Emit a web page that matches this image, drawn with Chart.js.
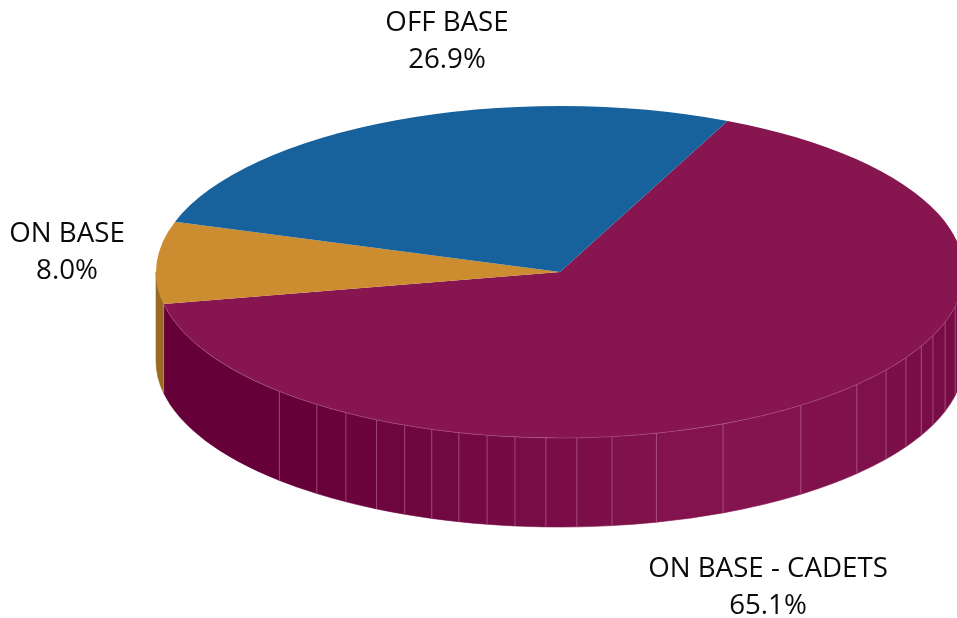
<!DOCTYPE html>
<html>
<head>
<meta charset="utf-8">
<style>html,body{margin:0;padding:0;background:#fff;overflow:hidden}canvas{display:block}</style>
<script src="https://cdn.jsdelivr.net/npm/chart.js@4/dist/chart.umd.min.js"></script>
</head>
<body>
<canvas id="c" width="957" height="618"></canvas>
<script>
const categories = ["ON BASE - CADETS", "ON BASE", "OFF BASE"];
const shares = [65.1, 8.0, 26.9];
const sliceColors = ["#861550", "#cb8d30", "#17619c"];

const view = { rx: 404, ry: 166, depth: 89 };
const wallFacetDegrees = [12,17.6,22.6,26.6,31.1,36.2,42.7,53.4,66.2,76.2,82.6,87.6,92,96.4,100.4,104.5,108.5,112.6,117,122,127,134];
const labelAnchors = [{x:768,y:569},{x:67,y:234},{x:447,y:23}];
const labelFont = '27.7px "Open Sans"';

const rad = d => d * Math.PI / 180;
function mix(a, b, t) {
  return "rgb(" + a.map((v, i) => Math.round(v + (b[i] - v) * t)).join(",") + ")";
}
function maroonWall(deg) {
  const dark = [102, 0, 57], top = [134, 21, 80], right = [117, 10, 68];
  if (deg >= 130) return mix(dark, dark, 0);
  if (deg >= 66) return mix(top, dark, (deg - 66) / 64);
  return mix(right, top, Math.max(0, (deg - 12) / 54));
}
function wallColor(index, deg) { return index === 0 ? maroonWall(deg) : "#996a1f"; }

const pie3d = {
  id: "pie3d",
  beforeDatasetsDraw(chart) {
    const ctx = chart.ctx, arcs = chart.getDatasetMeta(0).data;
    const cx = arcs[0].x, cy = arcs[0].y, R = arcs[0].outerRadius, d = view.depth;
    ctx.save();
    arcs.forEach((arc, i) => {
      const a0 = Math.max(arc.startAngle, 0), a1 = Math.min(arc.endAngle, Math.PI);
      if (a1 <= a0) return;
      const cuts = [a0, ...wallFacetDegrees.map(rad).filter(a => a > a0 && a < a1), a1];
      for (let k = 0; k < cuts.length - 1; k++) {
        const mid = (cuts[k] + cuts[k + 1]) / 2 * 180 / Math.PI;
        ctx.beginPath();
        ctx.ellipse(cx, cy, view.rx, view.ry, 0, cuts[k], cuts[k + 1]);
        ctx.ellipse(cx, cy + d, view.rx, view.ry, 0, cuts[k + 1], cuts[k], true);
        ctx.closePath();
        ctx.fillStyle = wallColor(i, mid);
        ctx.strokeStyle = ctx.fillStyle;
        ctx.lineWidth = 0.6;
        ctx.fill();
        ctx.stroke();
      }
      ctx.strokeStyle = "rgba(255,205,225,0.3)";
      ctx.lineWidth = 1;
      cuts.forEach((a, k) => {
        if (a <= 0.001 || a >= Math.PI - 0.001) return;
        if (k === cuts.length - 1 && i === 0) return;
        const x = cx + view.rx * Math.cos(a), y = cy + view.ry * Math.sin(a);
        ctx.beginPath();
        ctx.moveTo(x, y);
        ctx.lineTo(x, y + d);
        ctx.stroke();
      });
    });
    ctx.restore();
    ctx.save();
    ctx.translate(cx, cy);
    ctx.scale(view.rx / R, view.ry / R);
    ctx.translate(-cx, -cy);
  },
  afterDatasetsDraw(chart) {
    const ctx = chart.ctx, arcs = chart.getDatasetMeta(0).data;
    ctx.restore();
    const cx = arcs[0].x, cy = arcs[0].y;
    ctx.save();
    ctx.beginPath();
    ctx.ellipse(cx, cy, view.rx, view.ry, 0, 0, arcs[0].endAngle);
    ctx.strokeStyle = "rgba(255,205,225,0.25)";
    ctx.lineWidth = 0.8;
    ctx.stroke();
    ctx.restore();
  },
  afterDraw(chart) {
    const ctx = chart.ctx;
    ctx.save();
    ctx.font = labelFont;
    ctx.fillStyle = "#0a0a0a";
    ctx.textAlign = "center";
    ctx.textBaseline = "middle";
    categories.forEach((name, i) => {
      const p = labelAnchors[i];
      ctx.fillText(name, p.x, p.y);
      ctx.fillText(shares[i].toFixed(1) + "%", p.x, p.y + 37);
    });
    ctx.restore();
  }
};

new Chart(document.getElementById("c"), {
  type: "pie",
  data: {
    labels: categories,
    datasets: [{
      data: shares,
      backgroundColor: sliceColors,
      borderWidth: 0,
      clip: false
    }]
  },
  options: {
    responsive: false,
    animation: false,
    rotation: 24.5,
    layout: { padding: { left: 163, right: 0, top: 0, bottom: 74 } },
    plugins: { legend: { display: false }, tooltip: { enabled: false } }
  },
  plugins: [pie3d]
});
</script>
</body>
</html>
